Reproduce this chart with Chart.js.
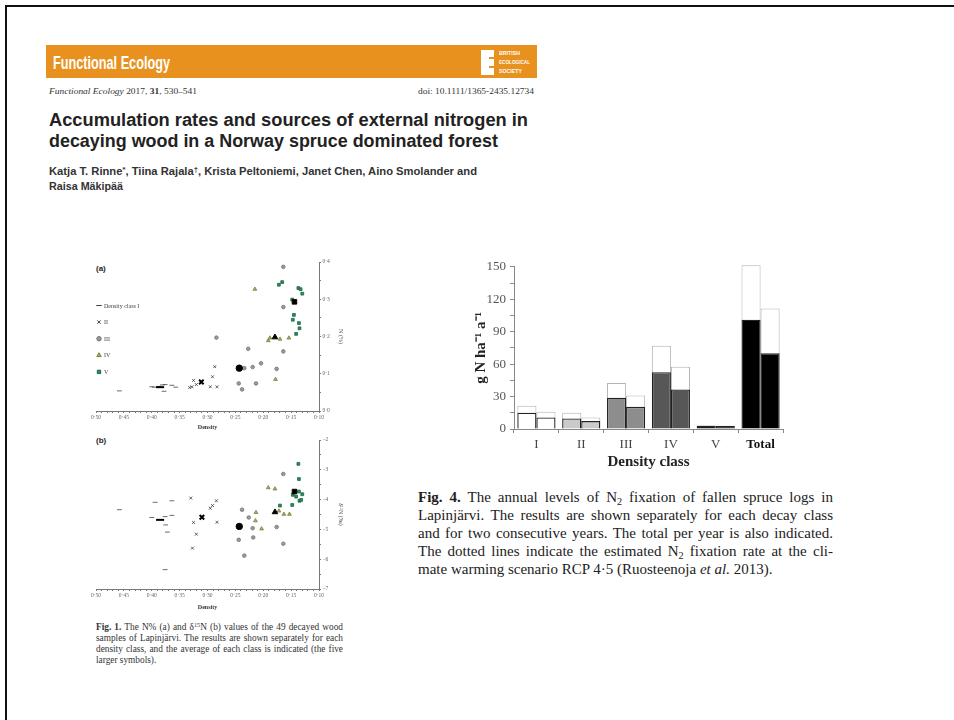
<!DOCTYPE html>
<html lang="en">
<head>
<meta charset="utf-8">
<title>Functional Ecology – external nitrogen in decaying wood</title>
<script src="https://cdn.jsdelivr.net/npm/chart.js@4.4.1/dist/chart.umd.min.js"></script>
<style>
  html, body { margin: 0; padding: 0; background: #fff; }
  body { position: relative; width: 954px; height: 720px; overflow: hidden;
         font-family: "Liberation Sans", Arial, sans-serif; color: #222; }
  .frame { position: absolute; left: 5px; top: 5px; width: 1000px; height: 1000px;
           border-left: 2px solid #111; border-top: 2px solid #111; }
  .t { position: absolute; white-space: nowrap; transform-origin: 0 50%; }
  .banner { position: absolute; left: 46px; top: 45px; width: 491px; height: 33px; background: #e8911e; }
  .logo { position: absolute; left: 481px; top: 50px; width: 13px; height: 25px; background: #fff; }
  .notch { position: absolute; left: 489px; width: 5px; height: 2px; background: #e8911e; }
  .logo-text { font: bold 6px/7px "Liberation Sans", sans-serif; color: #fff; }
  .serif { font-family: "Liberation Serif", "Times New Roman", serif; }
  .cap1 { font: 9.3px/10px "Liberation Serif", serif; color: #333; }
  .cap4 { font: 15px/16px "Liberation Serif", serif; color: #222; }
  sub, sup { font-size: 68%; line-height: 0; }
  sub { vertical-align: -0.25em; }
  sup { vertical-align: 0.45em; }
  .panel-tag { font: bold 8px/9px "Liberation Sans", sans-serif; color: #222; }
  canvas { position: absolute; }
</style>
</head>
<body>
<div class="frame"></div>

<!-- journal banner -->
<div class="banner"></div>
<div class="t" data-fit="117" style="left:53px;top:54px;font:bold 18px/18px 'Liberation Sans Narrow','Liberation Sans',sans-serif;color:#fff;">Functional Ecology</div>
<div class="logo"></div>
<div class="notch" style="top:57px"></div>
<div class="notch" style="top:66px"></div>
<div class="t logo-text" data-fit="21" style="left:499px;top:50px;">BRITISH</div>
<div class="t logo-text" data-fit="31" style="left:499px;top:59px;">ECOLOGICAL</div>
<div class="t logo-text" data-fit="23" style="left:499px;top:68px;">SOCIETY</div>

<div class="t serif" data-fit="148" style="left:49px;top:88px;font-size:8px;line-height:8px;color:#333;"><i>Functional Ecology</i> 2017, <b>31</b>, 530–541</div>
<div class="t serif" data-fit="116" style="left:418px;top:88px;font-size:8px;line-height:8px;color:#333;">doi: 10.1111/1365-2435.12734</div>

<div class="t" data-fit="479" style="left:49px;top:111px;font:bold 18px/18px 'Liberation Sans',sans-serif;color:#222;">Accumulation rates and sources of external nitrogen in</div>
<div class="t" data-fit="449" style="left:49px;top:132px;font:bold 18px/18px 'Liberation Sans',sans-serif;color:#222;">decaying wood in a Norway spruce dominated forest</div>
<div class="t" data-fit="428" style="left:49px;top:167px;font:bold 10px/10px 'Liberation Sans',sans-serif;color:#333;">Katja T. Rinne<sup>*</sup>, Tiina Rajala<sup>†</sup>, Krista Peltoniemi, Janet Chen, Aino Smolander and</div>
<div class="t" data-fit="74" style="left:49px;top:182px;font:bold 10px/10px 'Liberation Sans',sans-serif;color:#333;">Raisa Mäkipää</div>

<!-- Fig. 1 -->
<div class="t panel-tag" style="left:96px;top:264px;">(a)</div>
<div class="t panel-tag" style="left:96px;top:436px;">(b)</div>
<canvas id="panelA" width="266" height="177" style="left:84px;top:255px;"></canvas>
<canvas id="panelB" width="266" height="179" style="left:84px;top:433px;"></canvas>

<div class="t cap1" data-span="247" style="left:96px;top:622px;"><b>Fig. 1.</b> The N% (a) and δ<sup>15</sup>N (b) values of the 49 decayed wood</div>
<div class="t cap1" data-span="247" style="left:96px;top:633px;">samples of Lapinjärvi. The results are shown separately for each</div>
<div class="t cap1" data-span="247" style="left:96px;top:644px;">density class, and the average of each class is indicated (the five</div>
<div class="t cap1" style="left:96px;top:655px;">larger symbols).</div>

<!-- Fig. 4 -->
<canvas id="fixation" width="330" height="218" style="left:460px;top:255px;"></canvas>

<div class="t cap4" data-span="415" style="left:418px;top:489px;"><b>Fig. 4.</b> The annual levels of N<sub>2</sub> fixation of fallen spruce logs in</div>
<div class="t cap4" data-span="415" style="left:418px;top:507px;">Lapinjärvi. The results are shown separately for each decay class</div>
<div class="t cap4" data-span="415" style="left:418px;top:525px;">and for two consecutive years. The total per year is also indicated.</div>
<div class="t cap4" data-span="415" style="left:418px;top:543px;">The dotted lines indicate the estimated N<sub>2</sub> fixation rate at the cli-</div>
<div class="t cap4" style="left:418px;top:561px;">mate warming scenario RCP 4·5 (Ruosteenoja <i>et al.</i> 2013).</div>

<script>
// ---- Fig. 4: annual N2 fixation (g N ha-1 a-1) per density class ----
const barCategories = ['I', 'II', 'III', 'IV', 'V', 'Total'];
const fixationFirstYear = [15, 9.8, 29, 52.5, 3, 101];
const fixationSecondYear = [10.7, 7.3, 20.5, 36.5, 2.7, 70];
const rcpFirstYear = [21.5, 15, 42.5, 77, 3.2, 151.5];
const rcpSecondYear = [16, 10.7, 31, 57.5, 2.9, 111.5];
const fixationTickLabels = [0, 30, 60, 90, 120, 150];

// ---- Fig. 1: density vs N% (a) and delta15N (b), by density class ----
const densityClassLabels = ['Density class I', 'II', 'III', 'IV', 'V'];
const densityTickLabels = [0.50, 0.45, 0.40, 0.35, 0.30, 0.25, 0.20, 0.15, 0.10];
const nTickLabels = [0.0, 0.1, 0.2, 0.3, 0.4];
const deltaTickLabels = [-2, -3, -4, -5, -6, -7];

const nClassI = [[0.458,0.054],[0.400,0.065],[0.395,0.064],[0.388,0.066],[0.381,0.070],[0.376,0.071],[0.378,0.053],[0.364,0.069],[0.357,0.064]];
const nClassII = [[0.332,0.063],[0.328,0.065],[0.325,0.082],[0.320,0.071],[0.295,0.065],[0.291,0.092],[0.287,0.119],[0.283,0.065]];
const nClassIII = [[0.284,0.197],[0.244,0.074],[0.238,0.058],[0.234,0.115],[0.227,0.167],[0.219,0.118],[0.213,0.074],[0.204,0.128],[0.176,0.113],[0.164,0.160],[0.164,0.279],[0.164,0.387]];
const nClassIV = [[0.215,0.327],[0.191,0.189],[0.188,0.196],[0.178,0.085],[0.170,0.193],[0.154,0.196]];
const nClassV = [[0.172,0.339],[0.166,0.346],[0.148,0.299],[0.147,0.245],[0.145,0.258],[0.141,0.207],[0.137,0.330],[0.133,0.327],[0.130,0.315],[0.136,0.236],[0.135,0.222]];
const nClassMeans = [[0.385,0.064],[0.311,0.078],[0.243,0.115],[0.179,0.198],[0.144,0.293]];

const dClassI = [[0.458,-4.34],[0.400,-4.60],[0.394,-4.09],[0.376,-4.57],[0.375,-4.85],[0.372,-5.09],[0.364,-4.04],[0.364,-4.53],[0.376,-6.35]];
const dClassII = [[0.330,-3.95],[0.325,-4.77],[0.320,-5.16],[0.327,-5.63],[0.295,-4.29],[0.291,-4.20],[0.284,-4.04],[0.283,-4.76]];
const dClassIII = [[0.244,-5.35],[0.238,-4.34],[0.234,-5.88],[0.226,-4.60],[0.219,-4.96],[0.218,-5.27],[0.176,-4.92],[0.164,-5.48],[0.164,-3.14]];
const dClassIV = [[0.191,-3.60],[0.179,-3.64],[0.213,-4.43],[0.214,-4.71],[0.203,-4.98],[0.172,-4.38],[0.163,-4.49],[0.153,-4.49]];
const dClassV = [[0.170,-4.20],[0.147,-3.84],[0.141,-3.90],[0.148,-4.18],[0.137,-2.80],[0.136,-3.31],[0.136,-3.73],[0.135,-4.04],[0.132,-4.01],[0.130,-3.82]];
const dClassMeans = [[0.385,-4.68],[0.310,-4.59],[0.243,-4.90],[0.179,-4.42],[0.144,-3.73]];

// marker look for each density class
const classMarkers = [
  { pointStyle: 'line',     radius: 2.4, fill: '#555555', edge: '#444444' },
  { pointStyle: 'crossRot', radius: 2.0, fill: '#444444', edge: '#3a3a3a' },
  { pointStyle: 'circle',   radius: 1.8, fill: '#9c9c9c', edge: '#707070' },
  { pointStyle: 'triangle', radius: 2.2, fill: '#abab66', edge: '#80803e' },
  { pointStyle: 'rect',     radius: 2.0, fill: '#2e8b5e', edge: '#1d6844' }
];
const barFills = ['#ffffff', '#cacaca', '#8d8d8d', '#575757', '#1c1c1c', '#000000'];

const SERIF = '"Liberation Serif", "Times New Roman", serif';
Chart.defaults.font.family = SERIF;
Chart.defaults.animation = false;
Chart.defaults.responsive = false;
Chart.defaults.plugins.legend.display = false;
Chart.defaults.plugins.tooltip.enabled = false;

const toPoints = pairs => pairs.map(([x, y]) => ({ x, y }));
const dotDecimal = (v, digits) => v.toFixed(digits).replace('.', '·');

// legend drawn inside the plot area of panel (a)
const classLegend = {
  id: 'classLegend',
  afterDatasetsDraw(chart, args, opts) {
    if (!opts.show) return;
    const { ctx, chartArea } = chart;
    ctx.save();
    ctx.font = '6px ' + SERIF;
    ctx.textBaseline = 'middle';
    densityClassLabels.forEach((label, i) => {
      const m = classMarkers[i];
      const x = chartArea.left + 3;
      const y = chartArea.top + 43.5 + i * 16.6;
      ctx.fillStyle = m.fill;
      ctx.strokeStyle = m.edge;
      Chart.helpers.drawPoint(ctx, { pointStyle: m.pointStyle, radius: m.radius + 0.4, borderWidth: 1, rotation: 0 }, x, y);
      ctx.fillStyle = '#444';
      ctx.fillText(label, x + 5, y + 0.5);
    });
    ctx.restore();
  }
};

function scatterPanel(canvasId, classes, means, yScale, yTickLabels, yTitle, showLegend, axisHeight) {
  const datasets = [{
    label: 'Class averages',
    data: toPoints(means),
    pointStyle: classMarkers.map(m => m.pointStyle),
    pointRadius: classMarkers.map(m => m.pointStyle === 'line' ? 4 : 3.2),
    pointBackgroundColor: '#000',
    pointBorderColor: '#000',
    pointBorderWidth: classMarkers.map(m => (m.pointStyle === 'line' || m.pointStyle === 'crossRot') ? 2 : 1)
  }];
  classes.forEach((pairs, i) => {
    const m = classMarkers[i];
    datasets.push({
      label: densityClassLabels[i],
      data: toPoints(pairs),
      pointStyle: m.pointStyle,
      pointRadius: m.radius,
      pointBackgroundColor: m.fill,
      pointBorderColor: m.edge,
      pointBorderWidth: 0.8
    });
  });
  return new Chart(document.getElementById(canvasId), {
    type: 'scatter',
    data: { datasets },
    plugins: [classLegend],
    options: {
      layout: { padding: { left: 12, top: 7, right: 0, bottom: 0 } },
      plugins: { classLegend: { show: showLegend } },
      scales: {
        x: {
          type: 'linear', reverse: true, min: 0.10, max: 0.50,
          afterFit: s => { s.height = axisHeight; },
          border: { color: '#777', width: 1 },
          grid: { drawOnChartArea: false, tickLength: 2, color: '#777' },
          ticks: {
            stepSize: 0.01, maxTicksLimit: 100, autoSkip: false, maxRotation: 0,
            padding: 1.5, color: '#666', font: { size: 5.5 },
            callback: v => {
              const hit = densityTickLabels.find(t => Math.abs(t - v) < 1e-6);
              return hit === undefined ? '' : dotDecimal(hit, 2);
            }
          },
          title: { display: true, text: 'Density', color: '#333', font: { size: 6, weight: 'bold' }, padding: { top: 0, bottom: 0.5 } }
        },
        y: Object.assign({
          type: 'linear', position: 'right',
          afterFit: s => { s.width = 31; },
          border: { color: '#777', width: 1 },
          grid: { drawOnChartArea: false, tickLength: 2, color: '#777' },
          title: { display: true, text: yTitle, color: '#444', font: { size: 6 }, padding: { top: 5.4, bottom: 0 } }
        }, yScale, {
          ticks: Object.assign({ autoSkip: false, maxTicksLimit: 100, padding: 1.5, color: '#666', font: { size: 5.5 } }, yScale.ticks, {
            callback: v => {
              const hit = yTickLabels.find(t => Math.abs(t - v) < 1e-6);
              return hit === undefined ? '' : yScale.fmt(hit);
            }
          })
        })
      }
    }
  });
}

scatterPanel('panelA', [nClassI, nClassII, nClassIII, nClassIV, nClassV], nClassMeans,
  { min: 0, max: 0.4, ticks: { stepSize: 0.05 }, fmt: v => dotDecimal(v, 1) },
  nTickLabels, 'N (%)', true, 21);

scatterPanel('panelB', [dClassI, dClassII, dClassIII, dClassIV, dClassV], dClassMeans,
  { min: -7, max: -2, ticks: { stepSize: 0.5 }, fmt: v => (v < 0 ? '−' : '') + Math.abs(v) },
  deltaTickLabels, 'δ¹⁵N (‰)', false, 23);

// ---- Fig. 4 chart ----
const currentBar = { borderColor: '#222', borderWidth: 1.3, clip: false };
const rcpBar = { backgroundColor: '#ffffff', borderColor: '#b4b4b4', borderWidth: 1, clip: false };
new Chart(document.getElementById('fixation'), {
  type: 'bar',
  data: {
    labels: barCategories,
    datasets: [
      Object.assign({ label: 'First year', data: fixationFirstYear, stack: 'first', backgroundColor: barFills }, currentBar),
      Object.assign({ label: 'Second year', data: fixationSecondYear, stack: 'second', backgroundColor: barFills }, currentBar),
      Object.assign({ label: 'RCP 4.5, first year', data: rcpFirstYear, stack: 'first' }, rcpBar),
      Object.assign({ label: 'RCP 4.5, second year', data: rcpSecondYear, stack: 'second' }, rcpBar)
    ]
  },
  options: {
    layout: { padding: { left: 0, top: 10, right: 7, bottom: 0 } },
    datasets: { bar: { categoryPercentage: 0.85, barPercentage: 1.0 } },
    scales: {
      x: {
        stacked: true,
        afterFit: s => { s.height = 44; },
        border: { color: '#888', width: 1 },
        grid: { offset: true, drawOnChartArea: false, tickLength: 4, color: '#888' },
        ticks: {
          padding: 4, maxRotation: 0, autoSkip: false,
          color: c => c.index === 5 ? '#111' : '#444',
          font: c => ({ size: 13, family: SERIF, weight: c.index === 5 ? 'bold' : 'normal' })
        },
        title: { display: true, text: 'Density class', color: '#222', font: { size: 15, weight: 'bold' }, padding: { top: 0, bottom: 2 } }
      },
      y: {
        stacked: false, min: 0, max: 150,
        afterFit: s => { s.width = 54; },
        border: { color: '#888', width: 1 },
        grid: { drawOnChartArea: false, tickLength: 4, color: '#888' },
        ticks: {
          stepSize: 15, autoSkip: false, padding: 4, color: '#555', font: { size: 13 },
          callback: v => fixationTickLabels.includes(v) ? String(v) : ''
        },
        title: { display: true, text: 'g N ha⁻¹ a⁻¹', color: '#222', font: { size: 15, weight: 'bold' }, padding: { top: 12, bottom: 0 } }
      }
    }
  }
});

// ---- stretch header lines and justify caption lines to their column widths ----
function fitLines() {
  document.querySelectorAll('[data-fit]').forEach(el => {
    el.style.transform = 'none';
    const w = el.getBoundingClientRect().width;
    el.style.transform = 'scaleX(' + (parseFloat(el.dataset.fit) / w) + ')';
  });
  document.querySelectorAll('[data-span]').forEach(el => {
    el.style.wordSpacing = '0px';
    const w = el.getBoundingClientRect().width;
    const gaps = (el.textContent.match(/ /g) || []).length;
    if (gaps) el.style.wordSpacing = ((parseFloat(el.dataset.span) - w) / gaps) + 'px';
  });
}
fitLines();
if (document.fonts && document.fonts.ready) document.fonts.ready.then(fitLines);
</script>
</body>
</html>
